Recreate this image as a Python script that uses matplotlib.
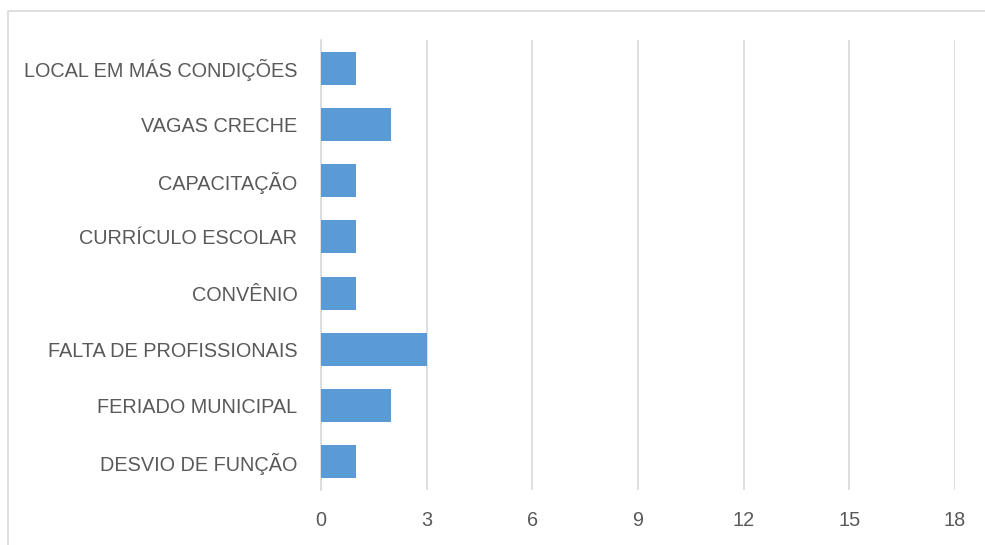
import matplotlib.pyplot as plt
from matplotlib.patches import Rectangle

# categories from bottom to top, as drawn
categorias = ["DESVIO DE FUNÇÃO", "FERIADO MUNICIPAL", "FALTA DE PROFISSIONAIS",
              "CONVÊNIO", "CURRÍCULO ESCOLAR", "CAPACITAÇÃO", "VAGAS CRECHE",
              "LOCAL EM MÁS CONDIÇÕES"]
valores = [1, 2, 3, 1, 1, 1, 2, 1]
ticks = [0, 3, 6, 9, 12, 15, 18]

plt.rcParams["font.family"] = ["Liberation Sans", "DejaVu Sans"]

fig = plt.figure(figsize=(9.85, 5.45), dpi=100)
ax = fig.add_axes([321/985, 1-490/545, (955-321)/985, (490-40)/545])

# outer frame like the spreadsheet chart area
fig.patches.append(Rectangle((8/985, -0.05), 1.1, 1.05-11/545, transform=fig.transFigure,
                             fill=False, edgecolor="#d9d9d9", linewidth=1.2))

ax.barh(range(len(categorias)), valores, height=0.59, color="#5b9bd5", zorder=3)

ax.set_xlim(0, 18)
ax.set_ylim(-0.5, len(categorias) - 0.5)
ax.set_xticks(ticks)
ax.set_yticks(range(len(categorias)))
ax.set_yticklabels(categorias)
ax.grid(axis="x", color="#d9d9d9", linewidth=1.2, zorder=0)
for s in ["top", "right", "bottom"]:
    ax.spines[s].set_visible(False)
ax.spines["left"].set_color("#d9d9d9")
ax.spines["left"].set_linewidth(1.2)
ax.tick_params(axis="both", length=0, colors="#595959", labelsize=14.3)
ax.tick_params(axis="x", pad=15)
ax.tick_params(axis="y", pad=17)

fig.savefig("out.png", dpi=100)
